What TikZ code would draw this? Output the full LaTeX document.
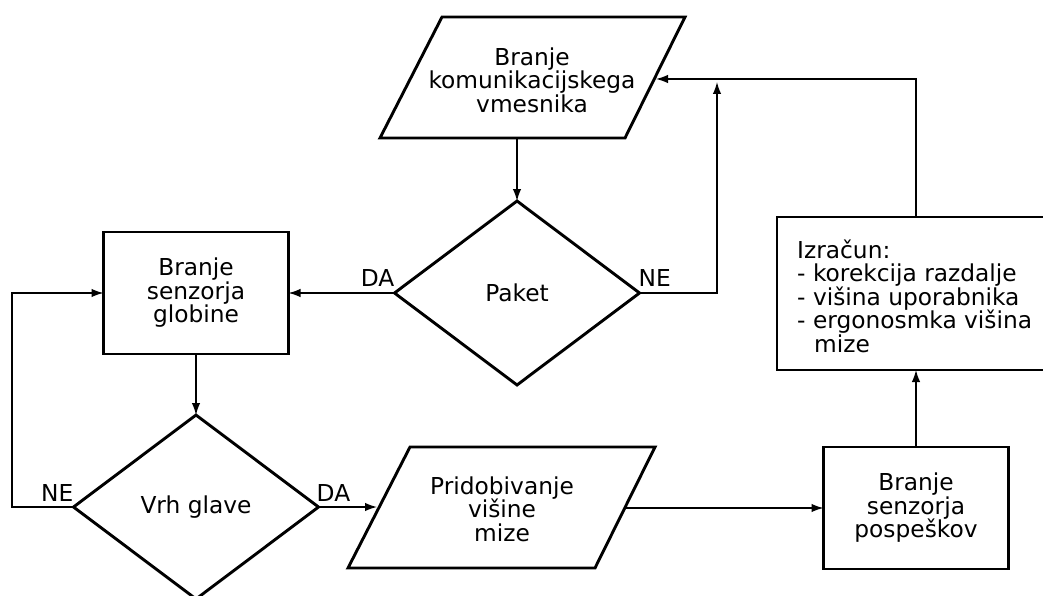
\documentclass[tikz,border=0pt]{standalone}
\usepackage{fontspec}
\setmainfont{DejaVu Sans}
\usetikzlibrary{shapes.geometric,arrows.meta,calc}
\begin{document}
\begin{tikzpicture}[x=1pt,y=-1pt,
  shp/.style={draw, line width=2.9pt, line join=miter},
  fnt/.style={font=\fontsize{23.3}{23.5}\selectfont},
  boxnode/.style={shp, fnt, rectangle, inner sep=0pt, outer sep=0pt, align=center},
  decision/.style={shp, fnt, diamond, inner sep=0pt, outer sep=0pt, minimum width=245pt, minimum height=184pt},
  txt/.style={fnt, align=center, inner sep=0pt},
  conn/.style={line width=1.4pt, -{Latex[length=12pt,width=8.5pt]}},
  lbl/.style={fnt, inner sep=0pt}
]
\useasboundingbox (0,0) rectangle (1043,596);

% top parallelogram
\coordinate (pA-tl) at (442,17);
\coordinate (pA-tr) at (685,17);
\coordinate (pA-br) at (625,138);
\coordinate (pA-bl) at (380,138);
\draw[shp] (pA-tl) -- (pA-tr) -- (pA-br) -- (pA-bl) -- cycle;
\node[txt] (pA) at (532,80) {Branje\\komunikacijskega\\vmesnika};
\coordinate (pA-s) at (517,138);
\coordinate (pA-e) at (656,79);

% Paket diamond
\node[decision] (dP) at (517,293) {Paket};

% Branje senzorja globine
\node[boxnode, minimum width=185pt, minimum height=122pt] (bG) at (196,293) {Branje\\senzorja\\globine};

% Vrh glave diamond
\node[decision] (dV) at (196,507) {Vrh glave};

% bottom parallelogram
\coordinate (pB-tl) at (410,447);
\coordinate (pB-tr) at (655,447);
\coordinate (pB-br) at (595,568);
\coordinate (pB-bl) at (348,568);
\draw[shp] (pB-tl) -- (pB-tr) -- (pB-br) -- (pB-bl) -- cycle;
\node[txt] (pB) at (502,509) {Pridobivanje\\višine\\mize};
\coordinate (pB-w) at (377,507);
\coordinate (pB-e) at (624,508);

% Branje senzorja pospeskov
\node[boxnode, minimum width=185pt, minimum height=122pt] (bP) at (916,508) {Branje\\senzorja\\pospeškov};

% Izracun box
\node[shp, rectangle, inner sep=0pt, outer sep=0pt, minimum width=278pt, minimum height=153pt] (bI) at (916,293.5) {};
\node[fnt, inner sep=0pt, align=left, anchor=west] (bIt) at (797,296) {Izračun:\\- korekcija razdalje\\- višina uporabnika\\- ergonosmka višina\\\hspace*{17pt}mize};

% connectors
\coordinate (neTip) at (717,82);
\coordinate (loopL) at (12,507);
\draw[conn] (pA-s) -- (dP.north);
\draw[conn] (dP.west) -- (bG.east);
\draw[conn] (dP.east) -| (neTip);
\draw[conn] (bI.north) |- (pA-e);
\draw[conn] (bG.south) -- (dV.north);
\draw[conn] (dV.west) -- (loopL) |- (bG.west);
\draw[conn] (dV.east) -- (pB-w);
\draw[conn] (pB-e) -- (bP.west);
\draw[conn] (bP.north) -- (bI.south);

% labels
\node[lbl, anchor=base east] (lDA1) at ($(dP.west)+(0,-7)$) {DA};
\node[lbl, anchor=base west] (lNE1) at ($(dP.east)+(-1,-7)$) {NE};
\node[lbl, anchor=base east] (lNE2) at ($(dV.west)+(0,-6)$) {NE};
\node[lbl, anchor=base west] (lDA2) at ($(dV.east)+(-2,-6)$) {DA};
\end{tikzpicture}
\end{document}
